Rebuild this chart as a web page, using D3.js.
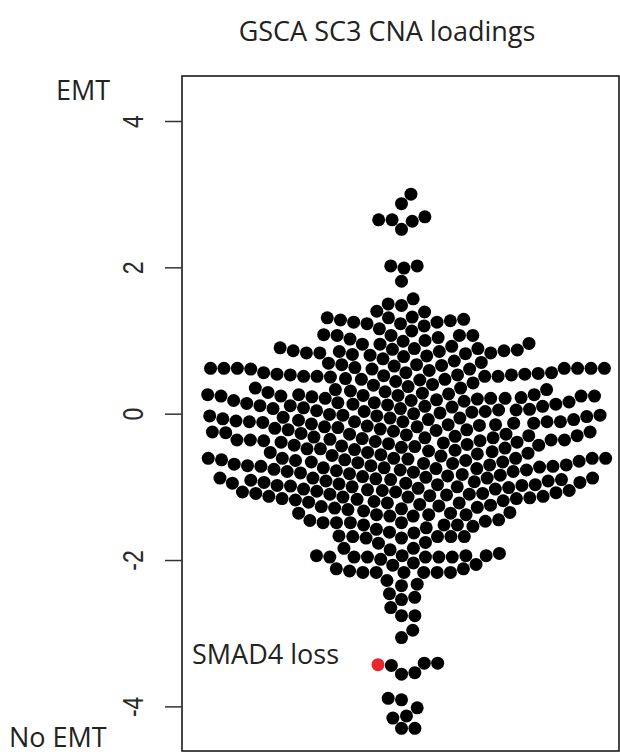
<!DOCTYPE html>
<html><head><meta charset="utf-8">
<script src="https://cdn.jsdelivr.net/npm/d3@7"></script>
<style>body{margin:0;background:#fff}svg{display:block}</style>
</head><body>
<svg id="chart" width="620" height="754"></svg>
<script>
const title = "GSCA SC3 CNA loadings";
const topLabel = "EMT";
const bottomLabel = "No EMT";
const highlightLabel = "SMAD4 loss";
const highlightValue = -3.43;
const yTicks = [4, 2, 0, -2, -4];
const yTickLabels = ["4", "2", "0", "-2", "-4"];

const upperTail = [3.00, 2.87, 2.69, 2.65, 2.65, 2.63, 2.52, 2.02, 2.02, 1.99, 1.81, 1.57, 1.50, 1.48, 1.40, 1.39];
const coreHigh = [
  1.32, 1.31, 1.31, 1.29, 1.28, 1.27, 1.25, 1.25, 1.23, 1.23, 1.20, 1.16, 1.13,
  1.08, 1.07, 1.07, 1.07, 1.07, 1.04, 1.02, 1.00, 0.99, 0.96, 0.95, 0.95,
  0.92, 0.90, 0.89, 0.89, 0.88, 0.87, 0.86, 0.86, 0.85, 0.85, 0.83, 0.83, 0.83, 0.82, 0.81, 0.80, 0.79, 0.78, 0.75,
  0.72, 0.70, 0.69, 0.67, 0.67, 0.66, 0.65, 0.63, 0.62, 0.62, 0.62, 0.62, 0.62, 0.62, 0.62,
  0.61, 0.61, 0.61, 0.59, 0.56, 0.56, 0.56, 0.55,
  0.54, 0.54, 0.53, 0.53, 0.53, 0.52, 0.51, 0.51, 0.51, 0.51, 0.50, 0.48, 0.47, 0.47, 0.46, 0.44, 0.42, 0.40,
  0.39, 0.37, 0.35, 0.35, 0.33, 0.33, 0.31, 0.30, 0.29, 0.28, 0.27, 0.26, 0.26, 0.26,
  0.25, 0.25, 0.24, 0.24, 0.24, 0.24, 0.23, 0.22, 0.21, 0.21, 0.21, 0.20,
  0.19, 0.18, 0.18, 0.17, 0.16, 0.15, 0.15, 0.14, 0.13, 0.13, 0.12, 0.11, 0.11, 0.10, 0.10, 0.09, 0.08, 0.07,
  0.07, 0.06, 0.05, 0.05, 0.04, 0.03, 0.03, 0.02, 0.01, 0.00
];
const coreMid = [
  -0.01, -0.02, -0.02, -0.03, -0.03, -0.04, -0.05, -0.06, -0.06, -0.07, -0.08, -0.08, -0.09, -0.10,
  -0.11, -0.11, -0.11, -0.11, -0.11, -0.12, -0.13, -0.13, -0.14, -0.15, -0.15, -0.16, -0.17,
  -0.18, -0.18, -0.19, -0.20,
  -0.21, -0.22, -0.22, -0.23, -0.24, -0.25, -0.25, -0.26, -0.27, -0.28, -0.28, -0.29, -0.30, -0.30, -0.31,
  -0.32, -0.33, -0.33, -0.34, -0.35, -0.36, -0.36, -0.36, -0.36, -0.37, -0.37, -0.38, -0.39, -0.39, -0.40,
  -0.41, -0.42, -0.43, -0.43, -0.44, -0.45, -0.46, -0.47, -0.48, -0.48, -0.49, -0.50, -0.51,
  -0.52, -0.53, -0.53, -0.54, -0.55, -0.56, -0.57, -0.58,
  -0.61, -0.61, -0.61, -0.61, -0.61, -0.61, -0.62, -0.63, -0.63, -0.64, -0.64,
  -0.65, -0.66, -0.66, -0.67, -0.68, -0.68, -0.69, -0.70, -0.70, -0.71, -0.71, -0.72, -0.72,
  -0.73, -0.74, -0.74, -0.75, -0.75, -0.76, -0.77, -0.77, -0.78, -0.79, -0.79, -0.80
];
const coreLow = [
  -0.81, -0.82, -0.83, -0.84, -0.85, -0.86, -0.87, -0.88, -0.88, -0.88, -0.88, -0.89, -0.90,
  -0.90, -0.91, -0.92, -0.92, -0.93, -0.94, -0.94, -0.95, -0.95, -0.96, -0.97, -0.97, -0.98, -0.98, -0.99,
  -1.00, -1.00,
  -1.01, -1.02, -1.03, -1.03, -1.04, -1.05, -1.05, -1.06, -1.07, -1.07, -1.08, -1.09, -1.09, -1.10, -1.10,
  -1.11, -1.12, -1.13, -1.13, -1.14, -1.14, -1.15, -1.16, -1.16, -1.17, -1.18, -1.19, -1.20,
  -1.21, -1.22, -1.22, -1.24, -1.25, -1.26, -1.27, -1.28, -1.29, -1.30, -1.31, -1.33, -1.35, -1.36, -1.36,
  -1.38, -1.38, -1.38, -1.40, -1.40,
  -1.45, -1.46, -1.47, -1.49, -1.49, -1.49, -1.49, -1.52, -1.52, -1.52, -1.54, -1.56, -1.58,
  -1.62, -1.63, -1.67, -1.68, -1.68, -1.68, -1.68, -1.70, -1.70, -1.76, -1.77,
  -1.84, -1.84, -1.86, -1.91, -1.94, -1.94, -1.94, -1.94, -1.96, -1.96, -1.96, -1.96, -1.96, -1.96, -1.99,
  -2.04, -2.06, -2.07, -2.12, -2.12, -2.15, -2.17, -2.17, -2.17, -2.17, -2.17, -2.17
];
const lowerTail = [-2.28, -2.33, -2.35, -2.46, -2.51, -2.54, -2.65, -2.76, -2.76, -2.96, -3.06,
  -3.41, -3.41, -3.43, -3.44, -3.54, -3.56, -3.89, -3.91, -4.02, -4.13, -4.16, -4.30, -4.30];

const values = [].concat(upperTail, coreHigh, coreMid, coreLow, lowerTail);

const svg = d3.select("#chart");
const frame = {left: 182, top: 76, right: 619, bottom: 751};
const y = d3.scaleLinear().domain([-4.61, 4.615]).range([frame.bottom, frame.top]);
const x = d3.scaleLinear().domain([0.5, 1.5]).range([frame.left, frame.right]);
const groupPos = 1;
const dotSize = 13.4;   // swarm spacing in px
const dotR = 6.5;

// beeswarm "swarm" layout, ascending priority (as in R's beeswarm)
function swarm(vals) {
  const pts = vals.map((v, i) => ({v, i, py: y(v) / dotSize, off: 0}));
  const order = pts.slice().sort((a, b) => a.v - b.v || a.i - b.i);
  const placed = [];
  for (const p of order) {
    const near = placed.filter(q => Math.abs(p.py - q.py) < 1);
    if (near.length) {
      near.sort((a, b) => Math.abs(a.off) - Math.abs(b.off));
      const plus = [], minus = [];
      near.forEach(q => {
        const dy = p.py - q.py;
        const o = Math.sqrt(1 - dy * dy);
        plus.push(q.off + o); minus.push(q.off - o);
      });
      const cand = [0].concat(plus, minus);
      let best = Infinity, bestC = 0;
      for (const c of cand) {
        const bad = near.some(q => {
          const dx = c - q.off, dy = p.py - q.py;
          return dx * dx + dy * dy < 0.999;
        });
        if (!bad && Math.abs(c) < best) { best = Math.abs(c); bestC = c; }
      }
      p.off = bestC;
    }
    placed.push(p);
  }
  return pts;
}
const pts = swarm(values);
const cx = x(groupPos) + 1;

svg.append("g").selectAll("circle").data(pts).join("circle")
  .attr("cx", d => cx + d.off * dotSize)
  .attr("cy", d => y(d.v))
  .attr("r", dotR)
  .attr("fill", d => d.v === highlightValue ? "#e8282c" : "#000");

// frame
svg.append("rect")
  .attr("x", frame.left).attr("y", frame.top)
  .attr("width", frame.right - frame.left).attr("height", frame.bottom - frame.top)
  .attr("fill", "none").attr("stroke", "#1a1a1a").attr("stroke-width", 1.6);

// y axis
const axis = d3.axisLeft(y).tickValues(yTicks).tickSize(17)
  .tickFormat((d, i) => yTickLabels[i]);
const ag = svg.append("g").attr("transform", `translate(${frame.left},0)`).call(axis);
ag.select(".domain").remove();
ag.selectAll(".tick line").attr("stroke", "#333").attr("stroke-width", 1.5);
ag.selectAll(".tick text")
  .attr("transform", "translate(-39.5,0) rotate(-90) scale(1,1.3)")
  .attr("x", 0).attr("y", 0).attr("dy", 0)
  .attr("text-anchor", "middle")
  .attr("fill", "#2a2a2a")
  .style("font-family", "'Liberation Sans', Arial, sans-serif")
  .style("font-size", "23px");

const txt = (s, xx, yy, anchor, color) => svg.append("text")
  .attr("x", xx).attr("y", yy).attr("text-anchor", anchor || "start")
  .attr("fill", color || "#222")
  .style("font-family", "'Open Sans', 'Noto Sans', sans-serif")
  .style("font-size", "27px").text(s);

txt(title, 387, 41, "middle");
txt(topLabel, 56, 100);
txt(bottomLabel, 9, 747);
txt(highlightLabel, 192, 664);
</script>
</body></html>
